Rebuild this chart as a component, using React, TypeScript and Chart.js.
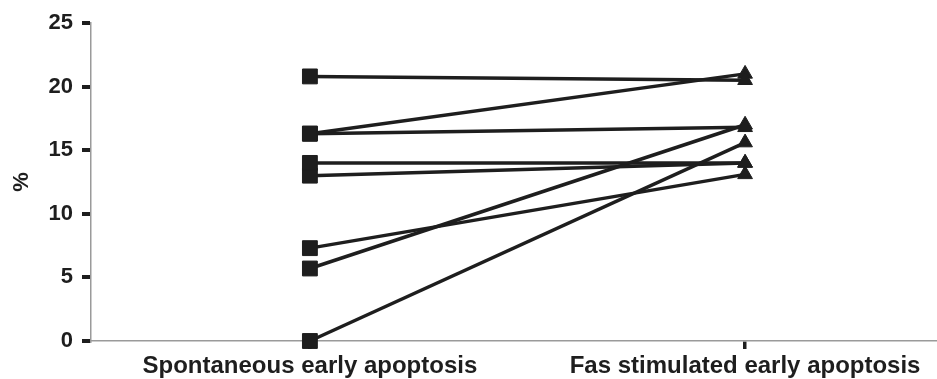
import React, { useEffect, useRef } from "react";
import { Chart, registerables } from "chart.js";

Chart.register(...registerables);

const categories = ["Spontaneous early apoptosis", "Fas stimulated early apoptosis"];
const spontaneous = [20.8, 16.3, 16.3, 14.0, 13.0, 7.3, 5.7, 0.0];
const fasStimulated = [20.5, 21.0, 16.8, 14.0, 14.0, 13.1, 17.0, 15.6];
const yTicks = [0, 5, 10, 15, 20, 25];
const yTitle = "%";

const INK = "#1e1e1e";
const FONT = "'Liberation Sans', Arial, sans-serif";

export default function App() {
  const ref = useRef<HTMLCanvasElement | null>(null);

  useEffect(() => {
    if (!ref.current) return;
    const datasets = spontaneous.map((v, i) => ({
      label: "Subject " + (i + 1),
      data: [
        { x: 0, y: v },
        { x: 1, y: fasStimulated[i] },
      ],
      borderColor: INK,
      backgroundColor: INK,
      borderWidth: 3.5,
      pointStyle: ["rect", "triangle"],
      pointRadius: [10.5, 8.5],
      pointBorderWidth: 1,
      pointBackgroundColor: INK,
      pointBorderColor: INK,
      clip: false as any,
      tension: 0,
    }));

    const chart = new Chart(ref.current, {
      type: "line",
      data: { datasets: datasets as any },
      options: {
        responsive: false,
        animation: false,
        layout: { autoPadding: false, padding: { top: 23, left: 0, right: 0, bottom: 0 } },
        plugins: { legend: { display: false }, tooltip: { enabled: false } },
        scales: {
          x: {
            type: "linear",
            min: -0.503,
            max: 1.441,
            afterBuildTicks: (scale: any) => {
              scale.ticks = categories.map((_, i) => ({ value: i }));
            },
            afterFit: (scale: any) => {
              scale.height = 38;
              scale.paddingLeft = 0;
              scale.paddingRight = 0;
            },
            ticks: {
              callback: (v: any) => categories[v as number] ?? "",
              color: INK,
              font: { family: FONT, size: 24, weight: "bold" },
              padding: 3,
              maxRotation: 0,
              autoSkip: false,
            },
            grid: {
              display: true,
              drawOnChartArea: false,
              drawTicks: true,
              tickLength: 8,
              color: INK,
              lineWidth: 3.5,
            },
            border: { display: true, color: "#9a9a9a", width: 1.5 },
          },
          y: {
            type: "linear",
            min: 0,
            max: 25,
            afterBuildTicks: (scale: any) => {
              scale.ticks = yTicks.map((t) => ({ value: t }));
            },
            afterFit: (scale: any) => {
              scale.width = 91;
            },
            ticks: {
              color: INK,
              font: { family: FONT, size: 22, weight: "bold" },
              padding: 9,
            },
            grid: {
              display: true,
              drawOnChartArea: false,
              drawTicks: true,
              tickLength: 9,
              color: INK,
              lineWidth: 4,
            },
            border: { display: true, color: "#9a9a9a", width: 1.5 },
            title: {
              display: true,
              text: yTitle,
              color: INK,
              font: { family: FONT, size: 22, weight: "bold" },
              padding: { top: 9, bottom: 0 },
            },
          },
        },
      },
    });
    return () => chart.destroy();
  }, []);

  return (
    <div style={{ position: "absolute", left: 0, top: 0, width: 937, height: 379, background: "#fff" }}>
      <canvas ref={ref} width={937} height={379} />
    </div>
  );
}
